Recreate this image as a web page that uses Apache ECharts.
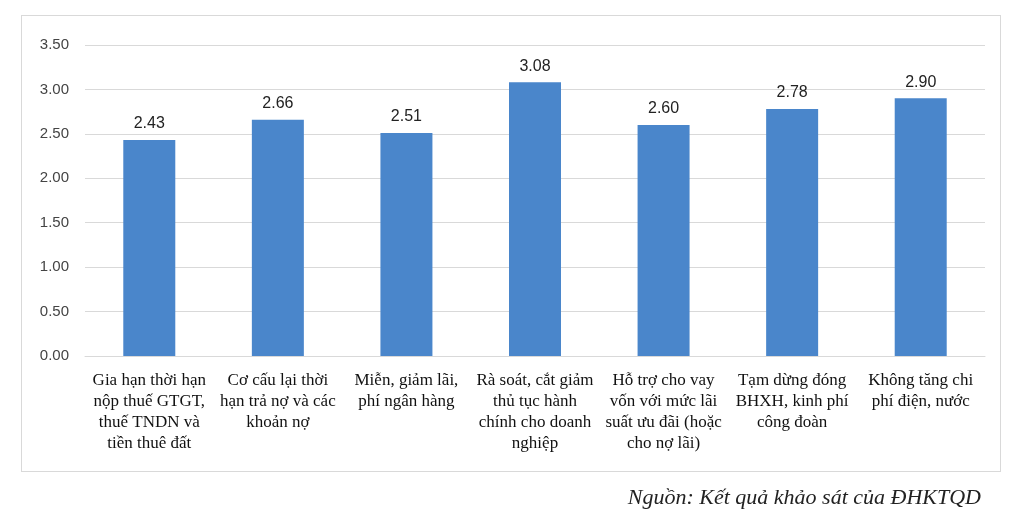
<!DOCTYPE html>
<html lang="vi">
<head>
<meta charset="UTF-8">
<title>Chart</title>
<script src="https://cdn.jsdelivr.net/npm/echarts@6/dist/echarts.min.js"></script>
<style>
html,body{margin:0;padding:0;background:#fff;}
#box{position:absolute;left:21px;top:15px;width:978px;height:455px;border:1px solid #d9d9d9;}
#main{width:1009px;height:525px;}
#src{position:absolute;right:28px;top:484px;font:italic 22px "Liberation Serif",serif;color:#222;}
</style>
</head>
<body>
<div id="box"></div>
<div id="main"></div>
<div id="src">Nguồn: Kết quả khảo sát của ĐHKTQD</div>
<script type="text/javascript">
var categories = [
    'Gia hạn thời hạn\nnộp thuế GTGT,\nthuế TNDN và\ntiền thuê đất',
    'Cơ cấu lại thời\nhạn trả nợ và các\nkhoản nợ',
    'Miễn, giảm lãi,\nphí ngân hàng',
    'Rà soát, cắt giảm\nthủ tục hành\nchính cho doanh\nnghiệp',
    'Hỗ trợ cho vay\nvốn với mức lãi\nsuất ưu đãi (hoặc\ncho nợ lãi)',
    'Tạm dừng đóng\nBHXH, kinh phí\ncông đoàn',
    'Không tăng chi\nphí điện, nước'
];
var values = [2.43, 2.66, 2.51, 3.08, 2.60, 2.78, 2.90];
var yTicks = [0, 0.5, 1, 1.5, 2, 2.5, 3, 3.5];

var myChart = echarts.init(document.getElementById('main'));
var option = {
    animation: false,
    grid: {left: 85, right: 24, top: 45, bottom: 169},
    xAxis: {
        type: 'category',
        data: categories,
        axisLine: {lineStyle: {color: '#d9d9d9'}},
        axisTick: {show: false},
        axisLabel: {
            interval: 0, color: '#111', lineHeight: 21,
            fontFamily: 'Liberation Serif', fontSize: 17, margin: 14
        }
    },
    yAxis: {
        type: 'value',
        min: yTicks[0], max: yTicks[yTicks.length - 1], interval: 0.5,
        axisLine: {show: false},
        axisTick: {show: false},
        splitLine: {lineStyle: {color: '#d9d9d9'}},
        axisLabel: {
            color: '#444', fontFamily: 'Liberation Sans', fontSize: 15, margin: 16,
            formatter: function (v) { return v.toFixed(2); }
        }
    },
    series: [{
        type: 'bar',
        data: values,
        barWidth: 52,
        itemStyle: {color: '#4a86cb'},
        label: {
            show: true, position: 'top', distance: 8,
            color: '#222', fontFamily: 'Liberation Sans', fontSize: 16,
            formatter: function (p) { return p.value.toFixed(2); }
        }
    }]
};
myChart.setOption(option);
</script>
</body>
</html>
